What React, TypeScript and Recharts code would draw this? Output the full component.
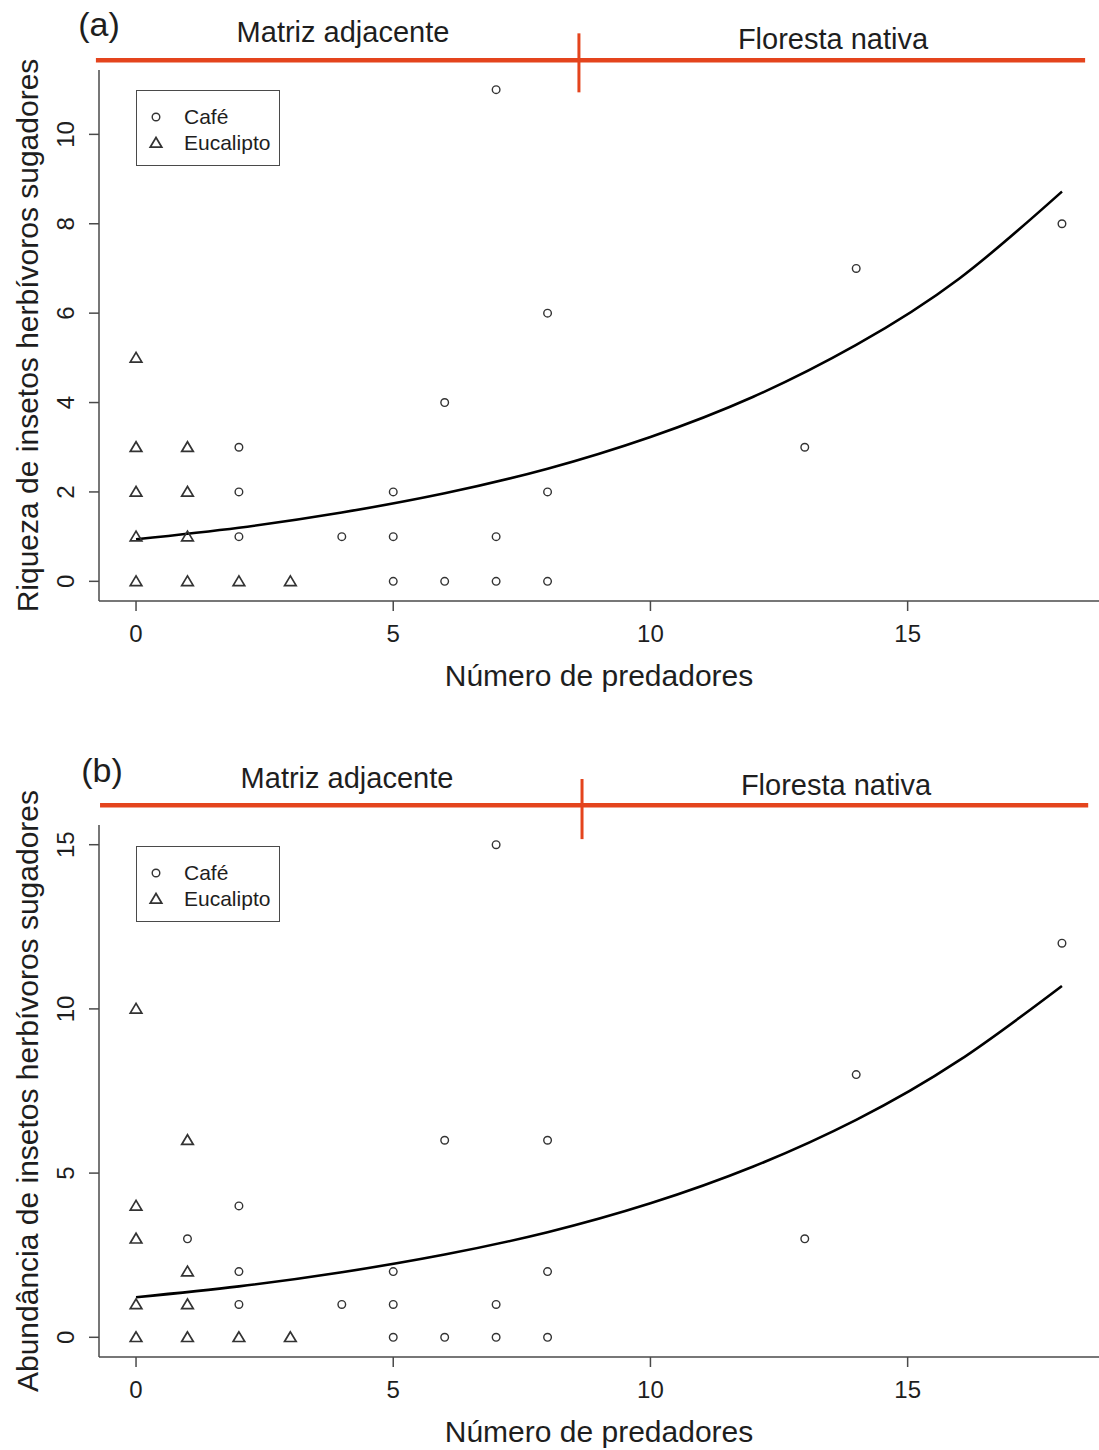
import React from 'react';
import {
  ComposedChart,
  Scatter,
  Line,
  XAxis,
  YAxis,
  ReferenceLine,
  Legend,
} from 'recharts';

// Panel (a): riqueza
const cafeRichX = [2, 2, 2, 4, 5, 5, 5, 6, 6, 7, 7, 7, 8, 8, 8, 13, 14, 18];
const cafeRichY = [3, 2, 1, 1, 2, 1, 0, 4, 0, 11, 1, 0, 6, 2, 0, 3, 7, 8];
const eucRichX = [0, 0, 0, 0, 0, 1, 1, 1, 1, 2, 3];
const eucRichY = [5, 3, 2, 1, 0, 3, 2, 1, 0, 0, 0];

// Panel (b): abundância
const cafeAbunX = [1, 2, 2, 2, 4, 5, 5, 5, 6, 6, 7, 7, 7, 8, 8, 8, 13, 14, 18];
const cafeAbunY = [3, 4, 2, 1, 1, 2, 1, 0, 6, 0, 15, 1, 0, 6, 2, 0, 3, 8, 12];
const eucAbunX = [0, 0, 0, 0, 0, 1, 1, 1, 1, 2, 3];
const eucAbunY = [10, 4, 3, 1, 0, 6, 2, 1, 0, 0, 0];

// fitted curves
const fitX = [0, 2, 4, 6, 8, 10, 12, 14, 16, 18];
const fitRich = [0.94, 1.2, 1.54, 1.97, 2.52, 3.23, 4.13, 5.29, 6.77, 8.72];
const fitAbun = [1.22, 1.55, 1.98, 2.52, 3.2, 4.08, 5.2, 6.62, 8.43, 10.7];

const xTicks = [0, 5, 10, 15];
const richTicks = [0, 2, 4, 6, 8, 10];
const abunTicks = [0, 5, 10, 15];

const zip = (xs: number[], ys: number[]) => xs.map((x, i) => ({ x, y: ys[i] }));

const FONT = '"Liberation Sans", Arial, Helvetica, sans-serif';
const INK = '#1e1e1e';
const AXIS = '#4a4a4a';
const RED = '#e4441d';
const MARK = '#333';

const CircleMark = (p: any) => (
  <circle cx={p.cx} cy={p.cy} r={3.8} fill="none" stroke={MARK} strokeWidth={1.4} />
);

const TriangleMark = (p: any) => {
  const { cx, cy } = p;
  return (
    <polygon
      points={`${cx},${cy - 5.5} ${cx - 5.8},${cy + 4.2} ${cx + 5.8},${cy + 4.2}`}
      fill="none"
      stroke={MARK}
      strokeWidth={1.7}
    />
  );
};

const YTick = (p: any) => {
  const x = p.x - 21;
  const y = p.y;
  return (
    <text
      x={x}
      y={y}
      transform={`rotate(-90 ${x} ${y})`}
      textAnchor="middle"
      dominantBaseline="central"
      fontSize={24}
      fontFamily={FONT}
      fill={INK}
    >
      {p.payload.value}
    </text>
  );
};

const LegendBox = () => (
  <div
    style={{
      width: 144,
      height: 76,
      boxSizing: 'border-box',
      border: `1.5px solid ${AXIS}`,
      background: '#fff',
      position: 'relative',
      fontFamily: FONT,
      fontSize: 21,
      color: INK,
    }}
  >
    <svg width={30} height={76} style={{ position: 'absolute', left: 5, top: 0 }}>
      <CircleMark cx={14} cy={26} />
      <TriangleMark cx={14} cy={52} />
    </svg>
    <div style={{ position: 'absolute', left: 47, top: 13, lineHeight: '26px' }}>
      Café
      <br />
      Eucalipto
    </div>
  </div>
);

type PanelProps = {
  tag: string;
  yTitle: string;
  yTicks: number[];
  yDomain: [number, number];
  cafe: { x: number; y: number }[];
  euc: { x: number; y: number }[];
  fit: { x: number; y: number }[];
  marginTop: number;
  xAxisHeight: number;
  barY: number;
  barX: [number, number];
  split: [number, number, number];
  legendTop: number;
  tagPos: [number, number];
  leftPos: [number, number];
  rightPos: [number, number];
};

function Panel(props: PanelProps) {
  const W = 1099;
  const H = 725;
  const overlay = (text: string, pos: [number, number], size: number) => (
    <div
      style={{
        position: 'absolute',
        left: pos[0],
        top: pos[1],
        transform: 'translate(-50%, -50%)',
        fontFamily: FONT,
        fontSize: size,
        color: INK,
        whiteSpace: 'nowrap',
      }}
    >
      {text}
    </div>
  );
  return (
    <div style={{ position: 'relative', width: W, height: H }}>
      <ComposedChart
        width={W}
        height={H}
        margin={{ top: props.marginTop, right: 0, bottom: 0, left: 0 }}
      >
        <XAxis
          type="number"
          dataKey="x"
          domain={[-0.72, 18.72]}
          ticks={xTicks}
          allowDataOverflow
          height={props.xAxisHeight}
          tickSize={10}
          tickMargin={14}
          stroke={AXIS}
          axisLine={{ stroke: AXIS, strokeWidth: 1.5 }}
          tickLine={{ stroke: AXIS, strokeWidth: 1.5 }}
          tick={{ fontSize: 24, fill: INK, fontFamily: FONT }}
          label={(lp: any) => (
            <text
              x={lp.viewBox.x + lp.viewBox.width / 2}
              y={lp.viewBox.y + 74}
              textAnchor="middle"
              dominantBaseline="central"
              fontSize={30}
              fontFamily={FONT}
              fill={INK}
            >
              Número de predadores
            </text>
          )}
        />
        <YAxis
          type="number"
          dataKey="y"
          domain={props.yDomain}
          ticks={props.yTicks}
          allowDataOverflow
          width={99}
          tickSize={10}
          stroke={AXIS}
          axisLine={{ stroke: AXIS, strokeWidth: 1.5 }}
          tickLine={{ stroke: AXIS, strokeWidth: 1.5 }}
          tick={<YTick />}
          label={(lp: any) => {
            const cx = lp.viewBox.x + 27;
            const cy = lp.viewBox.y + lp.viewBox.height / 2;
            return (
              <text
                x={cx}
                y={cy}
                transform={`rotate(-90 ${cx} ${cy})`}
                textAnchor="middle"
                dominantBaseline="central"
                fontSize={30}
                fontFamily={FONT}
                fill={INK}
              >
                {props.yTitle}
              </text>
            );
          }}
        />
        <ReferenceLine
          segment={[
            { x: props.barX[0], y: props.barY },
            { x: props.barX[1], y: props.barY },
          ]}
          stroke={RED}
          strokeWidth={4.5}
          ifOverflow="visible"
        />
        <ReferenceLine
          segment={[
            { x: props.split[0], y: props.split[1] },
            { x: props.split[0], y: props.split[2] },
          ]}
          stroke={RED}
          strokeWidth={3}
          ifOverflow="visible"
        />
        <Scatter
          name="Café"
          data={props.cafe}
          shape={CircleMark}
          isAnimationActive={false}
        />
        <Scatter
          name="Eucalipto"
          data={props.euc}
          shape={TriangleMark}
          isAnimationActive={false}
        />
        <Line
          data={props.fit}
          dataKey="y"
          type="natural"
          stroke="#000"
          strokeWidth={2.6}
          dot={false}
          activeDot={false}
          isAnimationActive={false}
        />
        <Legend
          layout="vertical"
          align="center"
          verticalAlign="middle"
          wrapperStyle={{ left: 136, top: props.legendTop, width: 144, height: 76 }}
          content={() => <LegendBox />}
        />
      </ComposedChart>
      {overlay(props.tag, props.tagPos, 34)}
      {overlay('Matriz adjacente', props.leftPos, 29)}
      {overlay('Floresta nativa', props.rightPos, 29)}
    </div>
  );
}

export default function App() {
  return (
    <div style={{ position: 'absolute', left: 0, top: 0, width: 1099, height: 1450, background: '#fff' }}>
      <Panel
        tag="(a)"
        yTitle="Riqueza de insetos herbívoros sugadores"
        yTicks={richTicks}
        yDomain={[-0.44, 11.44]}
        cafe={zip(cafeRichX, cafeRichY)}
        euc={zip(eucRichX, eucRichY)}
        fit={zip(fitX, fitRich)}
        marginTop={70}
        xAxisHeight={124}
        barY={11.66}
        barX={[-0.78, 18.45]}
        split={[8.61, 12.26, 10.94]}
        legendTop={90}
        tagPos={[99, 24]}
        leftPos={[343, 32]}
        rightPos={[833, 39]}
      />
      <Panel
        tag="(b)"
        yTitle="Abundância de insetos herbívoros sugadores"
        yTicks={abunTicks}
        yDomain={[-0.6, 15.6]}
        cafe={zip(cafeAbunX, cafeAbunY)}
        euc={zip(eucAbunX, eucAbunY)}
        fit={zip(fitX, fitAbun)}
        marginTop={100}
        xAxisHeight={93}
        barY={16.2}
        barX={[-0.7, 18.51]}
        split={[8.67, 17.0, 15.17]}
        legendTop={121}
        tagPos={[102, 45]}
        leftPos={[347, 53]}
        rightPos={[836, 60]}
      />
    </div>
  );
}
